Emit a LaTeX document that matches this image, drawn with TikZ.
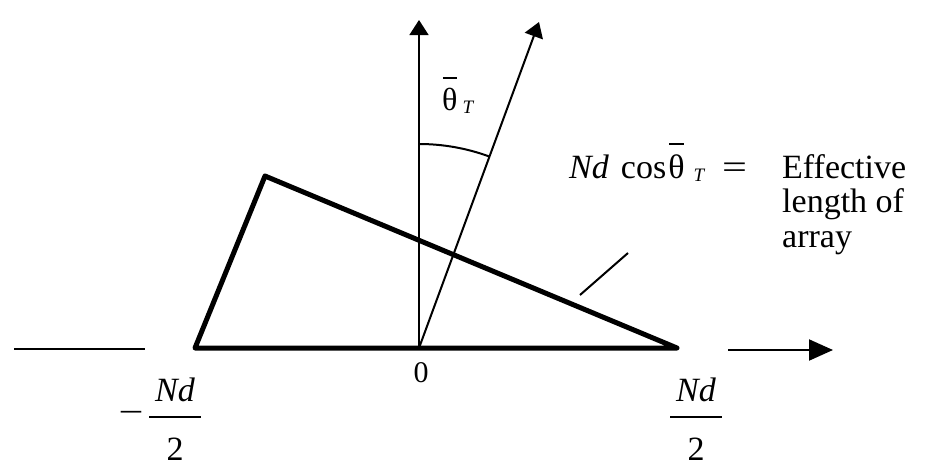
\documentclass[tikz,border=0pt]{standalone}
\usepackage{fontspec}
\setmainfont{Liberation Serif}
\usetikzlibrary{arrows.meta}
\newcommand\thbar{{\setbox0\hbox{θ}\vbox{\offinterlineskip\hbox to\wd0{\hss\vrule width 0.9\wd0 height 2pt depth 0pt\hss}\kern 9pt\box0}}}
\newcommand\subT[1]{\kern#1\raisebox{-3pt}{\fontsize{19}{19}\selectfont\itshape T}}
\newcommand\myfr[2]{\vbox{\offinterlineskip\halign{\hfil##\hfil\cr\hskip6pt #1\hskip6pt\cr\noalign{\kern14pt\hrule height2.5pt\kern19pt}#2\cr}}}
\begin{document}
\begin{tikzpicture}[x=1pt,y=-1pt,
  lbl/.style={inner sep=0pt,font=\fontsize{34}{36}\selectfont},
  thin axis/.style={line width=1.5pt},
  mid line/.style={line width=2pt},
  small tip/.style={-{Triangle[length=15pt,width=19pt]}},
  big tip/.style={-{Triangle[length=24pt,width=21pt]}}]
\useasboundingbox[fill=white] (0,0) rectangle (931,469);
% points
\coordinate (O) at (419,348);
\coordinate (L) at (195,348);
\coordinate (R) at (677,348);
\coordinate (P) at (265,176);
\coordinate (V) at (419,20);
\coordinate (Ry) at (539,22);
\coordinate (ll1) at (14,349);
\coordinate (ll2) at (145,349);
\coordinate (ra1) at (728,350);
\coordinate (ra2) at (833,350);
\coordinate (ld1) at (580,295);
\coordinate (ld2) at (628,253);
\coordinate (A1) at (419,144);
% triangle
\draw[line width=5pt,line join=round] (L) -- (P) -- (R) -- cycle;
% axes
\draw[thin axis,small tip] (O) -- (V);
\draw[mid line,small tip] (O) -- (Ry);
\draw[mid line] (ll1) -- (ll2);
\draw[mid line,big tip] (ra1) -- (ra2);
\draw[mid line] (ld1) -- (ld2);
\draw[mid line] (A1) arc[start angle=-90,end angle=-69.74,radius=204];
% labels
\node[lbl,anchor=base west,font=\fontsize{32}{34}\selectfont] (th) at (442,110) {\thbar\subT{5pt}};
\node[lbl,anchor=base west] (eq) at (569,178) {\textit{Nd}\kern12pt cos\kern2pt\thbar\subT{9pt}\kern18pt\scalebox{1.3}[1]{=}};
\node[lbl,anchor=base west] (e1) at (782,178) {Effective};
\node[lbl,anchor=base west] (e2) at (782,212.5) {length of};
\node[lbl,anchor=base west] (e3) at (782,247) {array};
\node[lbl,anchor=base,font=\fontsize{30}{30}\selectfont] (zero) at (421,382) {0};
\node[lbl] (mn) at (131,417) {\scalebox{1.3}[1]{−}};
\node[lbl,anchor=base] (fl) at (175,460) {\myfr{\textit{Nd}}{2}};
\node[lbl,anchor=base] (fr) at (696,460) {\myfr{\textit{Nd}}{2}};
\end{tikzpicture}
\end{document}
